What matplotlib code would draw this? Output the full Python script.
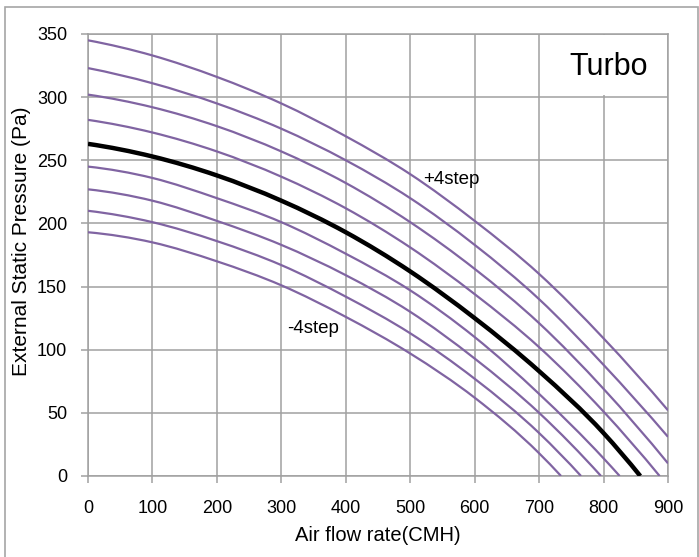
import numpy as np
import matplotlib
matplotlib.use("Agg")
import matplotlib.pyplot as plt
from matplotlib.patches import Rectangle, PathPatch
from matplotlib.path import Path

# air flow points (CMH) read at each gridline
flow = [0, 100, 200, 300, 400, 500, 600, 700, 800, 900]

# external static pressure (Pa), +4 .. -4 steps; last point is where a curve hits 0
p_up4 = [345, 333, 316, 295, 269, 239, 202, 160, 109, 52]
p_up3 = [323, 311, 295, 275, 250, 220, 183, 140, 88, 31]
p_up2 = [302, 292, 277, 257, 232, 201, 164, 121, 69, 10]
flow_up1 = [0, 100, 200, 300, 400, 500, 600, 700, 800, 887]
p_up1 = [282, 272, 257, 237, 212, 181, 144, 102, 51, 0]
flow_base = [0, 100, 200, 300, 400, 500, 600, 700, 800, 857]
p_base = [263, 253, 238, 218, 193, 162, 125, 83, 34, 0]
flow_dn1 = [0, 100, 200, 300, 400, 500, 600, 700, 800, 825]
p_dn1 = [245, 236, 220, 201, 176, 147, 110, 65, 14, 0]
flow_dn2 = [0, 100, 200, 300, 400, 500, 600, 700, 796]
p_dn2 = [227, 218, 202, 183, 159, 130, 93, 50, 0]
flow_dn3 = [0, 100, 200, 300, 400, 500, 600, 700, 765]
p_dn3 = [210, 201, 186, 167, 142, 113, 77, 34, 0]
flow_dn4 = [0, 100, 200, 300, 400, 500, 600, 700, 734]
p_dn4 = [193, 185, 170, 151, 126, 97, 62, 18, 0]

steps = [
    (flow, p_up4), (flow, p_up3), (flow, p_up2), (flow_up1, p_up1),
    (flow_dn1, p_dn1), (flow_dn2, p_dn2), (flow_dn3, p_dn3), (flow_dn4, p_dn4),
]

purple = "#8064a2"
grid_col = "#a0a0a0"


def smooth_path(xs, ys):
    """ Smoothed line like Excel: cubic pieces that pass through every point """
    x = np.asarray(xs, float)
    y = np.asarray(ys, float)
    h = np.diff(x)
    d = np.diff(y) / h
    m = np.zeros_like(x)
    m[1:-1] = (d[:-1] * h[1:] + d[1:] * h[:-1]) / (h[:-1] + h[1:])
    m[0] = d[0] - h[0] * (d[1] - d[0]) / (h[0] + h[1])
    m[-1] = d[-1] + h[-1] * (d[-1] - d[-2]) / (h[-2] + h[-1])
    verts = [(x[0], y[0])]
    codes = [Path.MOVETO]
    for i in range(len(x) - 1):
        k = h[i] / 3
        verts += [(x[i] + k, y[i] + m[i] * k),
                  (x[i + 1] - k, y[i + 1] - m[i + 1] * k),
                  (x[i + 1], y[i + 1])]
        codes += [Path.CURVE4] * 3
    return Path(verts, codes)


plt.rcParams['font.family'] = ['Liberation Sans', 'DejaVu Sans']

fig = plt.figure(figsize=(6.99, 5.57), dpi=100)
ax = fig.add_axes([88 / 699, 81 / 557, 580 / 699, 442 / 557])

# outer chart frame
fig.patches.append(Rectangle((5 / 699, -0.01), 693 / 699, 1.01 - 7 / 557,
                             transform=fig.transFigure, fill=False,
                             edgecolor="#a6a6a6", linewidth=1.2))

for fx, py in steps:
    ax.add_patch(PathPatch(smooth_path(fx, py), fill=False,
                           edgecolor=purple, lw=1.6, zorder=3))
ax.add_patch(PathPatch(smooth_path(flow_base, p_base), fill=False,
                       edgecolor="black", lw=3.2, zorder=4))

ax.set_xlim(0, 900)
ax.set_ylim(0, 350)
ax.set_xticks(np.arange(0, 901, 100))
ax.set_yticks(np.arange(0, 351, 50))
ax.set_axisbelow(True)
ax.grid(True, color=grid_col, lw=1.1)
for s in ax.spines.values():
    s.set_color(grid_col)
    s.set_linewidth(1.1)
ax.tick_params(direction="out", length=5, width=1.1, color=grid_col,
               labelsize=13)
ax.tick_params(axis="x", pad=12)
ax.tick_params(axis="y", pad=10)

ax.set_xlabel("Air flow rate(CMH)", fontsize=14.5, labelpad=7)
ax.set_ylabel("External Static Pressure (Pa)", fontsize=15)
ax.yaxis.set_label_coords(-0.098, 0.53)

# white patch behind the mode label hides the gridlines there
ax.add_patch(Rectangle((0.8, 300 / 350 + 0.004), 0.199, 1 - 300 / 350 - 0.006,
                       transform=ax.transAxes, facecolor="white",
                       edgecolor="none", zorder=1))
ax.text(869, 324, "Turbo", fontsize=22, ha="right", va="center", zorder=5)
ax.text(520, 235, "+4step", fontsize=13.5, ha="left", va="center", zorder=5)
ax.text(309, 117, "-4step", fontsize=13.5, ha="left", va="center", zorder=5)

fig.savefig("out.png", dpi=100)
